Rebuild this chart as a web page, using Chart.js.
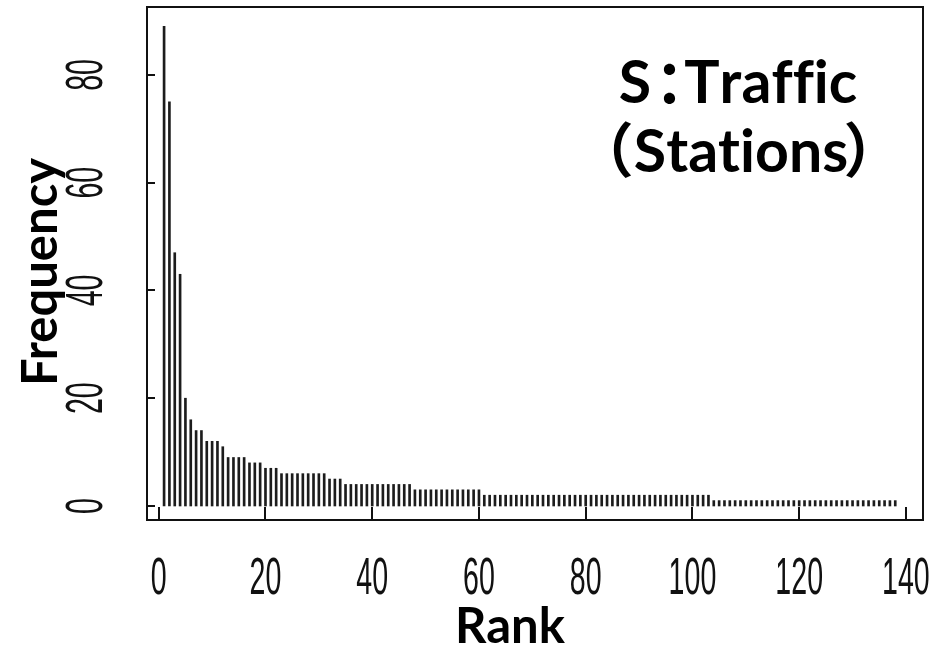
<!DOCTYPE html>
<html>
<head>
<meta charset="utf-8">
<script src="https://cdn.jsdelivr.net/npm/chart.js@4"></script>
<style>
  html, body { margin: 0; padding: 0; background: #fff; }
  #wrap { width: 950px; height: 648px; }
</style>
</head>
<body>
<div id="wrap"><canvas id="chart"></canvas></div>
<script>
// frequency of each rank, rank 1 first
const freq = [
  89, 75, 47, 43, 20, 16, 14, 14, 12, 12,
  12, 11, 9, 9, 9, 9, 8, 8, 8, 7,
  7, 7, 6, 6, 6, 6, 6, 6, 6, 6,
  6, 5, 5, 5, 4, 4, 4, 4, 4, 4,
  4, 4, 4, 4, 4, 4, 4, 3, 3, 3,
  3, 3, 3, 3, 3, 3, 3, 3, 3, 3,
  2, 2, 2, 2, 2, 2, 2, 2, 2, 2,
  2, 2, 2, 2, 2, 2, 2, 2, 2, 2,
  2, 2, 2, 2, 2, 2, 2, 2, 2, 2,
  2, 2, 2, 2, 2, 2, 2, 2, 2, 2,
  2, 2, 2, 1, 1, 1, 1, 1, 1, 1,
  1, 1, 1, 1, 1, 1, 1, 1, 1, 1,
  1, 1, 1, 1, 1, 1, 1, 1, 1, 1,
  1, 1, 1, 1, 1, 1, 1, 1
];
const xTicks = [0, 20, 40, 60, 80, 100, 120, 140];
const yTicks = [0, 20, 40, 60, 80];
const xTitle = 'Rank';
const yTitle = 'Frequency';
const noteLines = ['S：Traffic', '（Stations）'];

const points = freq.map((v, i) => ({ x: i + 1, y: v }));

// full width marks get about half an em, like the original slide font did
function drawTight(ctx, text, cx, y) {
    const parts = [...text].map(ch => {
        const full = ch.charCodeAt(0) >= 0xFF00;
        const w = ctx.measureText(ch).width;
        let shift = 0;
        let adv = full ? 0.45 * w : w;
        if (ch === '（') shift = -0.55 * w;
        if (ch === '）') shift = -0.08 * w;
        if (ch === '：') { adv = 0.56 * w; shift = 0.06 * w; }
        return { ch, adv, shift };
    });
    const total = parts.reduce((s, p) => s + p.adv, 0);
    let px = cx - total / 2;
    ctx.textAlign = 'left';
    parts.forEach(p => {
        ctx.fillText(p.ch, px + p.shift, y);
        px += p.adv;
    });
}

// R style box, inward ticks, narrow tick labels, titles and note
const rFrame = {
    id: 'rFrame',
    afterDraw(chart) {
        const { ctx, chartArea: a, scales: { x, y } } = chart;
        ctx.save();
        ctx.strokeStyle = '#111';
        ctx.lineWidth = 2;
        ctx.strokeRect(a.left, a.top, a.right - a.left, a.bottom - a.top);

        ctx.beginPath();
        x.ticks.forEach(t => {
            const px = Math.round(x.getPixelForValue(t.value));
            ctx.moveTo(px, a.bottom);
            ctx.lineTo(px, a.bottom - 13);
        });
        y.ticks.forEach(t => {
            const py = Math.round(y.getPixelForValue(t.value));
            ctx.moveTo(a.left, py);
            ctx.lineTo(a.left + 8, py);
        });
        ctx.stroke();

        ctx.fillStyle = '#111';
        ctx.font = '52px "Liberation Sans", Arial, sans-serif';
        ctx.textAlign = 'center';
        ctx.textBaseline = 'middle';
        x.ticks.forEach(t => {
            ctx.save();
            ctx.translate(x.getPixelForValue(t.value), 580);
            ctx.scale(0.55, 1);
            ctx.fillText(t.label, 0, 0);
            ctx.restore();
        });
        y.ticks.forEach(t => {
            ctx.save();
            ctx.translate(88, y.getPixelForValue(t.value));
            ctx.rotate(-Math.PI / 2);
            ctx.scale(0.55, 1);
            ctx.fillText(t.label, 0, 0);
            ctx.restore();
        });

        // axis titles
        ctx.fillStyle = '#000';
        ctx.font = 'bold 49px Lato, sans-serif';
        ctx.textBaseline = 'alphabetic';
        ctx.textAlign = 'center';
        ctx.fillText(xTitle, 510, 643);
        ctx.save();
        ctx.translate(57, 272);
        ctx.rotate(-Math.PI / 2);
        ctx.fillText(yTitle, 0, 0);
        ctx.restore();

        // panel note, top right
        ctx.font = 'bold 59px Lato, "Noto Sans CJK SC", sans-serif';
        drawTight(ctx, noteLines[0], 738, 103);
        drawTight(ctx, noteLines[1], 741, 172);
        ctx.restore();
    }
};

const ctx = document.getElementById('chart').getContext('2d');
new Chart(ctx, {
    type: 'bar',
    data: {
        datasets: [{
            data: points,
            backgroundColor: '#1c1c1c',
            barThickness: 2
        }]
    },
    options: {
        responsive: true,
        maintainAspectRatio: false,
        animation: false,
        layout: { padding: { top: 7, right: 27, left: 0, bottom: 0 } },
        plugins: {
            legend: { display: false },
            tooltip: { enabled: false }
        },
        scales: {
            x: {
                type: 'linear',
                offset: false,
                min: -2.2,
                max: 143.2,
                afterBuildTicks: s => { s.ticks = xTicks.map(v => ({ value: v })); },
                afterFit: s => { s.height = 128; },
                grid: { display: false, drawTicks: false },
                border: { display: false },
                ticks: { display: false }
            },
            y: {
                min: -2.6,
                max: 92.6,
                afterBuildTicks: s => { s.ticks = yTicks.map(v => ({ value: v })); },
                afterFit: s => { s.width = 147; },
                grid: { display: false, drawTicks: false },
                border: { display: false },
                ticks: { display: false }
            }
        }
    },
    plugins: [rFrame]
});
</script>
</body>
</html>
